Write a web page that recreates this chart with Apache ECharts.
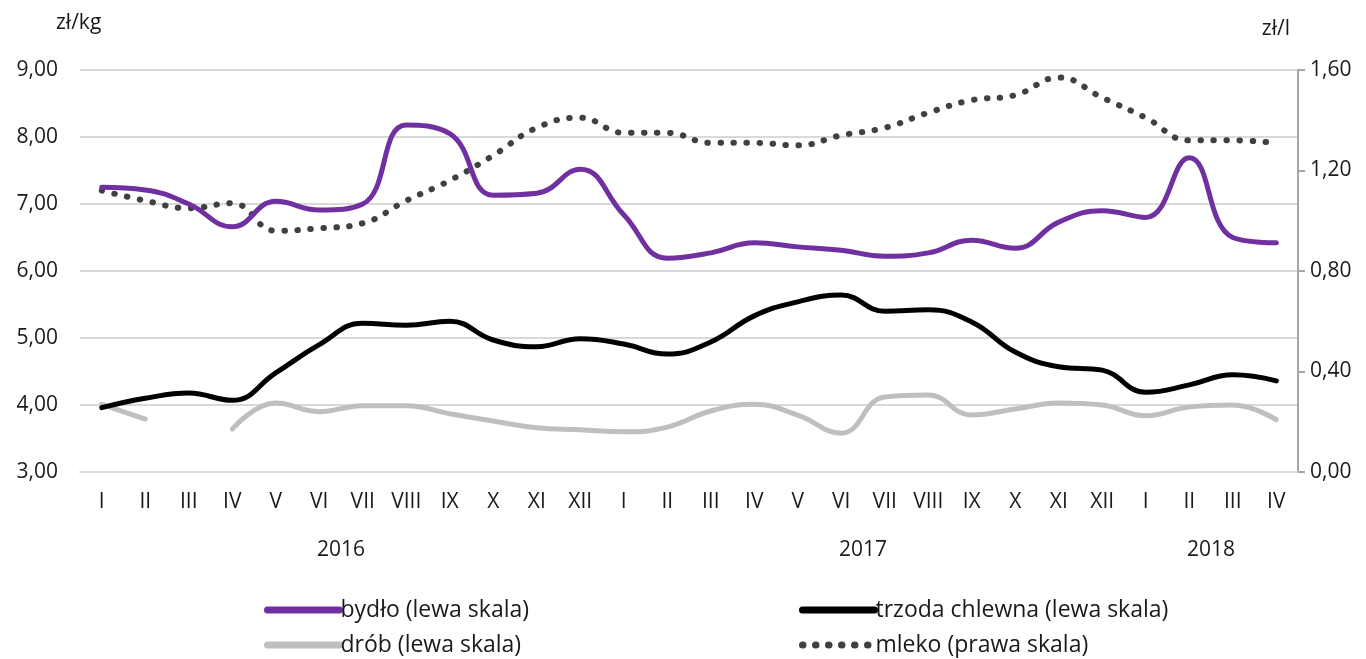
<!DOCTYPE html>
<html>
<head>
<meta charset="utf-8">
<script src="https://cdn.jsdelivr.net/npm/echarts@6/dist/echarts.min.js"></script>
<style>
  html, body { margin: 0; padding: 0; background: #fff; }
  #main { width: 1366px; height: 659px; }
</style>
</head>
<body>
<div id="main"></div>
<script>
// months I 2016 .. IV 2018
const months = ['I','II','III','IV','V','VI','VII','VIII','IX','X','XI','XII',
                'I','II','III','IV','V','VI','VII','VIII','IX','X','XI','XII',
                'I','II','III','IV'];
// year labels sit on month boundaries (29 boundaries)
const yearTicks = ['', '', '', '', '', '', '2016', '', '', '', '', '', '', '', '', '', '', '', '2017',
                   '', '', '', '', '', '', '', '2018', '', ''];

const bydlo = [7.25, 7.21, 7.0, 6.66, 7.04, 6.91, 7.0, 8.18, 8.05, 7.13, 7.16, 7.52,
               6.84, 6.19, 6.27, 6.42, 6.36, 6.31, 6.22, 6.27, 6.46, 6.34, 6.73, 6.9,
               6.8, 7.69, 6.5, 6.42];
const trzoda = [3.96, 4.1, 4.18, 4.07, 4.48, 4.9, 5.22, 5.19, 5.25, 4.97, 4.87, 4.99,
                4.91, 4.76, 4.94, 5.33, 5.54, 5.64, 5.4, 5.42, 5.24, 4.79, 4.57, 4.52,
                4.19, 4.3, 4.45, 4.36];
const drob = [4.01, 3.79, null, 3.64, 4.03, 3.9, 3.99, 3.99, 3.87, 3.76, 3.66, 3.63,
              3.6, 3.67, 3.91, 4.01, 3.85, 3.58, 4.12, 4.15, 3.85, 3.94, 4.03, 4.0,
              3.84, 3.97, 4.0, 3.78];
const mleko = [1.12, 1.08, 1.05, 1.07, 0.96, 0.97, 0.99, 1.08, 1.16, 1.26, 1.37, 1.41,
               1.35, 1.35, 1.31, 1.31, 1.30, 1.34, 1.37, 1.43, 1.48, 1.50, 1.57, 1.49,
               1.41, 1.32, 1.32, 1.31];

const font = 'Open Sans';
const txt = '#1a1a1a';
const comma = v => v.toFixed(2).replace('.', ',');
const smoothness = 0.45;

const legendBase = {
    orient: 'vertical', top: 597, height: 62, padding: 0,
    itemWidth: 72, itemHeight: 8, itemGap: 9,
    itemStyle: { opacity: 0 },
    lineStyle: { width: 7 },
    textStyle: { fontFamily: font, fontSize: 23, lineHeight: 26, color: txt, padding: [0, 0, 0, -4] }
};

const myChart = echarts.init(document.getElementById('main'));
myChart.setOption({
    animation: false,
    textStyle: { fontFamily: font },
    grid: { left: 80, right: 68, top: 70, bottom: 187 },
    legend: [
        Object.assign({}, legendBase, { left: 264, data: ['bydło (lewa skala)', 'drób (lewa skala)'] }),
        Object.assign({}, legendBase, { left: 799, data: ['trzoda chlewna (lewa skala)', 'mleko (prawa skala)'] })
    ],
    xAxis: [
        {
            type: 'category', data: months, boundaryGap: true,
            axisLine: { show: true, lineStyle: { color: '#d9d9d9', width: 2 } },
            axisTick: { show: false },
            axisLabel: { interval: 0, margin: 20, fontSize: 21, color: txt, fontFamily: font }
        },
        {
            type: 'category', data: yearTicks, boundaryGap: false, position: 'bottom', offset: 48,
            axisLine: { show: false }, axisTick: { show: false },
            axisLabel: { interval: 0, margin: 20, fontSize: 21, color: txt, fontFamily: font }
        }
    ],
    yAxis: [
        {
            type: 'value', min: 3, max: 9, interval: 1,
            name: 'zł/kg', nameLocation: 'end', nameGap: 36,
            nameTextStyle: { fontSize: 21, color: txt, fontFamily: font, align: 'left', padding: [0, 0, 0, -24] },
            axisLine: { show: false }, axisTick: { show: false },
            axisLabel: { margin: 22, fontSize: 21, color: txt, fontFamily: font, formatter: comma },
            splitLine: { lineStyle: { color: '#d9d9d9', width: 2 } }
        },
        {
            type: 'value', min: 0, max: 1.6, interval: 0.4, position: 'right',
            name: 'zł/l', nameLocation: 'end', nameGap: 30,
            nameTextStyle: { fontSize: 21, color: txt, fontFamily: font, align: 'right', padding: [0, 8, 0, 0] },
            axisLine: { show: true, lineStyle: { color: '#a6a6a6', width: 2 } },
            axisTick: { show: true, length: 7, lineStyle: { color: '#a6a6a6', width: 2 } },
            axisLabel: { margin: 12, fontSize: 21, color: txt, fontFamily: font, formatter: comma },
            splitLine: { show: false }
        }
    ],
    series: [
        {
            name: 'mleko (prawa skala)', type: 'line', yAxisIndex: 1, data: mleko,
            smooth: smoothness, symbol: 'none', z: 1,
            lineStyle: { color: '#404040', width: 6, type: [0.5, 12.5], cap: 'round' },
            itemStyle: { color: '#404040' }
        },
        {
            name: 'drób (lewa skala)', type: 'line', data: drob,
            smooth: smoothness, symbol: 'none', connectNulls: false, z: 2,
            lineStyle: { color: '#bfbfbf', width: 5, cap: 'round' },
            itemStyle: { color: '#bfbfbf' }
        },
        {
            name: 'trzoda chlewna (lewa skala)', type: 'line', data: trzoda,
            smooth: smoothness, symbol: 'none', z: 3,
            lineStyle: { color: '#000000', width: 5, cap: 'round' },
            itemStyle: { color: '#000000' }
        },
        {
            name: 'bydło (lewa skala)', type: 'line', data: bydlo,
            smooth: smoothness, symbol: 'none', z: 4,
            lineStyle: { color: '#7030a0', width: 5, cap: 'round' },
            itemStyle: { color: '#7030a0' }
        }
    ]
});
</script>
</body>
</html>
